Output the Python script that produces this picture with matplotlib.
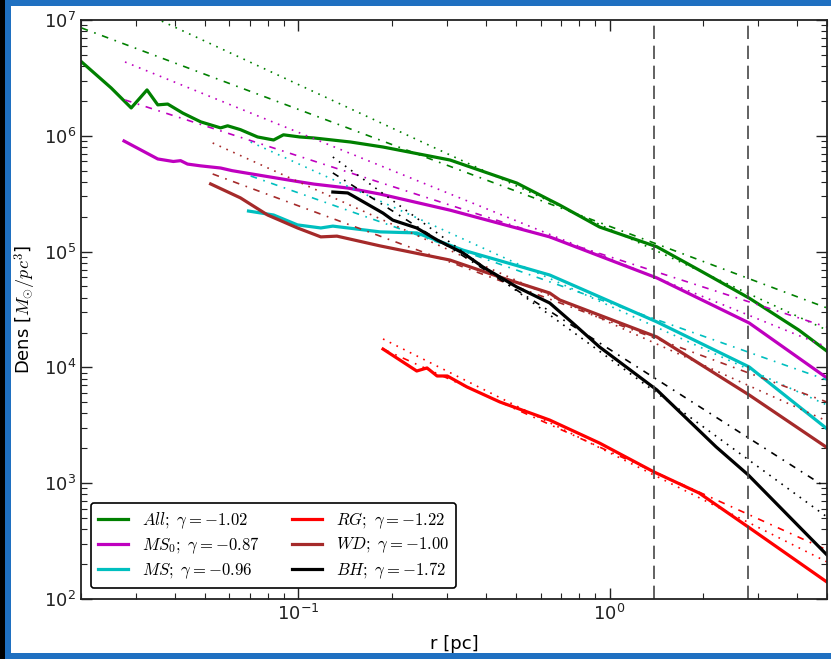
import matplotlib
matplotlib.use("Agg")
import matplotlib.pyplot as plt
from matplotlib.patches import Rectangle

plt.rcParams['mathtext.fontset'] = 'cm'
plt.rcParams['font.family'] = ['DejaVu Sans']

# ---------------- data ----------------
all_r = [0.0201, 0.0250, 0.0290, 0.0326, 0.0353, 0.0380, 0.0425, 0.0485, 0.0562, 0.0592,
         0.0651, 0.0739, 0.0832, 0.0895, 0.101, 0.112, 0.147, 0.187, 0.307, 0.503, 0.642,
         0.692, 0.929, 1.42, 1.94, 2.81, 4.06, 5.0]
all_d = [4.34e6, 2.59e6, 1.74e6, 2.49e6, 1.85e6, 1.88e6, 1.57e6, 1.32e6, 1.17e6, 1.22e6,
         1.13e6, 9.77e5, 9.2e5, 1.02e6, 9.77e5, 9.58e5, 8.84e5, 8.0e5, 6.18e5, 3.91e5, 2.79e5,
         2.52e5, 1.63e5, 1.10e5, 6.93e4, 3.97e4, 2.10e4, 1.38e4]

ms0_r = [0.0275, 0.0353, 0.0396, 0.0418, 0.0440, 0.0485, 0.0562, 0.0612, 0.0702, 0.101,
         0.112, 0.144, 0.183, 0.307, 0.642, 1.42, 2.81, 5.0]
ms0_d = [9.02e5, 6.31e5, 6.0e5, 6.1e5, 5.7e5, 5.5e5, 5.27e5, 5.0e5, 4.7e5, 4.0e5,
         3.83e5, 3.54e5, 3.14e5, 2.28e5, 1.34e5, 5.92e4, 2.42e4, 8.1e3]

ms_r = [0.0691, 0.0832, 0.0993, 0.118, 0.129, 0.183, 0.240, 0.338, 0.642, 1.42, 2.81, 5.0]
ms_d = [2.24e5, 2.07e5, 1.70e5, 1.60e5, 1.66e5, 1.48e5, 1.45e5, 1.03e5, 6.28e4, 2.47e4,
        1.01e4, 2.95e3]

wd_r = [0.0522, 0.0651, 0.0796, 0.0993, 0.118, 0.133, 0.183, 0.307, 0.444, 0.642, 0.692,
        1.42, 2.81, 5.0]
wd_d = [3.84e5, 2.91e5, 2.07e5, 1.60e5, 1.34e5, 1.36e5, 1.12e5, 8.45e4, 6.03e4, 4.39e4,
        3.82e4, 1.83e4, 5.78e3, 2.03e3]

bh_r = [0.129, 0.144, 0.150, 0.187, 0.201, 0.240, 0.279, 0.338, 0.392, 0.503, 0.642,
        0.761, 0.929, 1.42, 2.20, 2.79, 5.0]
bh_d = [3.27e5, 3.21e5, 3.02e5, 2.15e5, 1.87e5, 1.60e5, 1.26e5, 9.73e4, 7.36e4, 4.95e4,
        3.60e4, 2.42e4, 1.50e4, 6.38e3, 2.06e3, 1.18e3, 240]

rg_r = [0.187, 0.240, 0.259, 0.279, 0.301, 0.348, 0.444, 0.642, 0.929, 1.39, 1.94, 2.79, 5.0]
rg_d = [1.44e4, 9.31e3, 9.89e3, 8.43e3, 8.43e3, 6.78e3, 5.03e3, 3.51e3, 2.22e3, 1.25e3,
        823, 419, 140]

# power-law fits: (r_start, r_end), (d_start, d_end)
fit_r_all = [0.0201, 5.0]
fit_dd_all = [8.53e6, 3.26e4]     # dash-dot
fit_dt_all = [2.05e7, 2.10e4]     # dotted
fit_r_ms0 = [0.0277, 5.0]
fit_dd_ms0 = [2.04e6, 2.23e4]
fit_dt_ms0 = [4.34e6, 1.50e4]
fit_r_ms = [0.0702, 5.0]
fit_dd_ms = [4.50e5, 7.79e3]
fit_dt_ms = [8.84e5, 4.73e3]
fit_r_wd = [0.0530, 5.0]
fit_dd_wd = [4.68e5, 5.02e3]
fit_dt_wd = [8.67e5, 3.44e3]
fit_r_bh = [0.129, 5.0]
fit_dd_bh = [4.78e5, 910]
fit_dt_bh = [6.56e5, 511]
fit_r_rg = [0.187, 5.0]
fit_dd_rg = [1.44e4, 265]
fit_dt_rg = [1.76e4, 209]

labels = [r'$All;\ \gamma=-1.02$', r'$MS_0;\ \gamma=-0.87$', r'$MS;\ \gamma=-0.96$',
          r'$RG;\ \gamma=-1.22$', r'$WD;\ \gamma=-1.00$', r'$BH;\ \gamma=-1.72$']
colors = ['green', '#bf00bf', '#00bfbf', 'red', 'brown', 'black']

vlines_r = [1.39, 2.79]

# ---------------- figure ----------------
fig = plt.figure(figsize=(8.31, 6.59), dpi=100)
ax = fig.add_axes([81 / 831, 60 / 659, 746 / 831, 579 / 659])

series = [(all_r, all_d, fit_r_all, fit_dd_all, fit_dt_all),
          (ms0_r, ms0_d, fit_r_ms0, fit_dd_ms0, fit_dt_ms0),
          (ms_r, ms_d, fit_r_ms, fit_dd_ms, fit_dt_ms),
          (rg_r, rg_d, fit_r_rg, fit_dd_rg, fit_dt_rg),
          (wd_r, wd_d, fit_r_wd, fit_dd_wd, fit_dt_wd),
          (bh_r, bh_d, fit_r_bh, fit_dd_bh, fit_dt_bh)]

handles = []
for (r, d, fr, fdd, fdt), c, lab in zip(series, colors, labels):
    ax.plot(fr, fdt, color=c, lw=1.2, linestyle=(0, (1, 3.5)))
    ax.plot(fr, fdd, color=c, lw=1.2, linestyle=(0, (4, 4, 1, 4)))
    h, = ax.plot(r, d, color=c, lw=2.3, label=lab)
    handles.append(h)

for v in vlines_r:
    ax.axvline(v, color='0.28', lw=1.2, linestyle=(0, (8, 4)))

ax.set_xscale('log')
ax.set_yscale('log')
ax.set_xlim(0.02, 5.0)
ax.set_ylim(1e2, 1e7)

ax.tick_params(which='both', direction='in', top=True, right=True, labelsize=13, colors='#222222')
ax.tick_params(which='major', length=8, width=1)
ax.tick_params(which='minor', length=4, width=0.8)
for s in ax.spines.values():
    s.set_linewidth(1.3)
    s.set_color('#222222')

ax.set_xlabel('r [pc]', fontsize=13, labelpad=8)
ax.set_ylabel(r'Dens [$M_{\odot}/pc^3$]', fontsize=13, labelpad=4)

leg = ax.legend(handles=handles, loc='lower left', ncol=2, fontsize=12,
                bbox_to_anchor=(0.002, 0.004), handlelength=1.8, columnspacing=2.0,
                labelspacing=0.3, borderpad=0.45, fancybox=True, framealpha=1)
leg.get_frame().set_edgecolor('black')
leg.get_frame().set_linewidth(1.2)

# screenshot frame
fig.patches.append(Rectangle((0, 0), 5 / 831, 1, transform=fig.transFigure,
                             facecolor='black', edgecolor='none', zorder=10))
fig.patches.append(Rectangle((5 / 831, 0), 6 / 831, 1, transform=fig.transFigure,
                             facecolor='#1f70c1', edgecolor='none', zorder=10))
fig.patches.append(Rectangle((5 / 831, 1 - 6 / 659), 1, 6 / 659, transform=fig.transFigure,
                             facecolor='#1f70c1', edgecolor='none', zorder=10))
fig.patches.append(Rectangle((5 / 831, 0), 1, 6 / 659, transform=fig.transFigure,
                             facecolor='#1f70c1', edgecolor='none', zorder=10))

fig.savefig('out.png', dpi=100)
